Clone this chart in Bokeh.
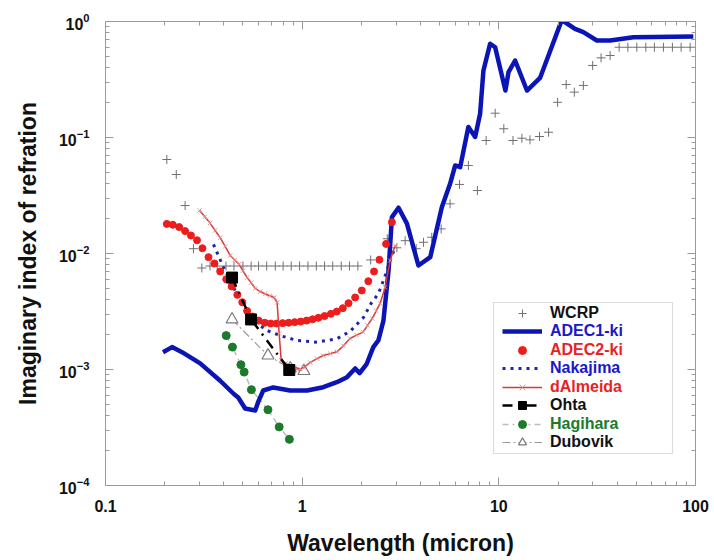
from bokeh.plotting import figure
from bokeh.models import (LogAxis, FixedTicker, Legend, LegendItem, BoxAnnotation,
                          CustomJSTickFormatter)
from bokeh.embed import file_html
from bokeh.resources import INLINE

# ---------------- data ----------------
wcrp_x = [0.205, 0.229, 0.254, 0.280, 0.309,
          0.34, 0.37, 0.41, 0.45, 0.50, 0.55, 0.60, 0.66, 0.73, 0.80,
          0.88, 0.97, 1.07, 1.18, 1.30, 1.43, 1.58, 1.74, 1.92,
          2.23, 2.71, 3.03, 3.34, 3.80, 4.14, 4.56, 5.09, 5.65, 6.31,
          7.0, 7.78, 8.62, 9.58, 10.6, 11.8, 13.1, 14.4, 16.1, 17.9,
          19.9, 22.0, 24.2, 26.9, 30.0, 33.1, 36.8, 40.9,
          45.3, 50.3, 55.9, 61.8, 68.7, 76.3, 84.5, 93.9]
wcrp_y = [0.0646, 0.048, 0.0259, 0.011, 0.0075,
          0.0078, 0.0078, 0.0078, 0.0078, 0.0078, 0.0078, 0.0078, 0.0078, 0.0078, 0.0078,
          0.0078, 0.0078, 0.0078, 0.0078, 0.0078, 0.0078, 0.0078, 0.0078, 0.0078,
          0.0088, 0.0134, 0.0112, 0.0129, 0.0110, 0.0125, 0.0138, 0.0163, 0.0268, 0.0394,
          0.0574, 0.0349, 0.0942, 0.162, 0.119, 0.0942, 0.0986, 0.0955, 0.102, 0.111,
          0.201, 0.286, 0.246, 0.281, 0.418, 0.486, 0.509, 0.60,
          0.60, 0.60, 0.60, 0.60, 0.60, 0.60, 0.60, 0.60]

adec1_x = [0.196, 0.218, 0.245, 0.303, 0.383, 0.448, 0.473, 0.513, 0.577, 0.597,
           0.634, 0.713, 0.869, 1.06, 1.28, 1.50, 1.69, 1.86, 1.96, 2.13,
           2.30, 2.44, 2.59, 2.75, 2.86, 3.09, 3.41, 3.90, 4.48, 5.13,
           5.65, 6.0, 6.36, 7.0, 7.58, 8.03, 8.35, 9.03, 9.58, 10.8,
           11.2, 12.1, 13.9, 16.2, 20.9, 24.4, 26.9, 31.5, 36.8, 48.3, 97.5]
adec1_y = [1.41e-3, 1.56e-3, 1.41e-3, 1.13e-3, 8.0e-4, 6.18e-4, 5.74e-4, 4.61e-4, 4.43e-4, 5.23e-4,
           6.59e-4, 7.0e-4, 6.59e-4, 6.59e-4, 7.04e-4, 7.78e-4, 8.59e-4, 1.02e-3, 9.3e-4, 1.12e-3,
           1.56e-3, 1.78e-3, 2.64e-3, 7.13e-3, 2.06e-2, 2.48e-2, 1.81e-2, 7.88e-3, 9.29e-3, 2.51e-2,
           3.99e-2, 5.74e-2, 5.55e-2, 0.123, 0.101, 0.160, 0.378, 0.643, 0.600, 0.254,
           0.366, 0.461, 0.254, 0.326, 1.03, 0.865, 0.809, 0.686, 0.686, 0.732, 0.742]

adec2_x = [0.205, 0.220, 0.237, 0.254, 0.272, 0.292, 0.311, 0.334, 0.358, 0.383,
           0.411, 0.438, 0.468, 0.496, 0.525, 0.560, 0.601, 0.645, 0.692, 0.742,
           0.796, 0.854, 0.916, 0.983, 1.054, 1.13, 1.21, 1.30, 1.40, 1.50,
           1.61, 1.72, 1.86, 2.01, 2.17, 2.32, 2.47, 2.67, 2.86]
adec2_y = [0.0180, 0.0177, 0.0169, 0.0156, 0.0143, 0.0130, 0.0111, 0.0093, 0.0082, 0.0070,
           0.0060, 0.0052, 0.0044, 0.0038, 0.0032, 0.00286, 0.00264, 0.00253, 0.00249, 0.00249,
           0.00251, 0.00253, 0.00256, 0.00259, 0.00264, 0.00271, 0.00279, 0.00289, 0.00302, 0.00316,
           0.00338, 0.00373, 0.00418, 0.0048, 0.00577, 0.0070, 0.00883, 0.0121, 0.0186]

nak_x = [0.354, 0.398, 0.448, 0.503, 0.565, 0.662, 0.773, 0.940, 1.19, 1.50,
         1.75, 2.05, 2.24, 2.44, 2.59, 2.70, 2.80, 2.97]
nak_y = [0.0120, 0.0076, 0.0051, 0.0034, 0.00264, 0.00217, 0.00196, 0.00178, 0.00172, 0.00184,
         0.00213, 0.00281, 0.00371, 0.0045, 0.00585, 0.00713, 0.0087, 0.0113]

dal_x = [0.301, 0.320, 0.340, 0.361, 0.383, 0.406, 0.431, 0.454, 0.478, 0.500,
         0.525, 0.550, 0.577, 0.612, 0.649, 0.685, 0.721, 0.746, 0.764, 0.782,
         0.825, 0.869, 0.920, 0.977, 1.02, 1.10, 1.19, 1.28, 1.39, 1.50,
         1.62, 1.75, 1.89, 2.04, 2.15, 2.27, 2.38, 2.49, 2.64, 2.80, 2.97]
dal_y = [0.0235, 0.0207, 0.0183, 0.0158, 0.0137, 0.0115, 0.0096, 0.0088, 0.0081, 0.0071,
         0.0062, 0.0056, 0.0050, 0.0047, 0.00448, 0.00432, 0.00418, 0.00378, 0.00204, 0.00120,
         0.00113, 0.00108, 0.00104, 0.00101, 0.00104, 0.00115, 0.00124, 0.00132, 0.00137, 0.00142,
         0.00160, 0.00185, 0.00198, 0.0021, 0.00240, 0.00275, 0.00320, 0.00371, 0.0051, 0.0087, 0.0117]

ohta_x = [0.44, 0.55, 0.86]
ohta_y = [0.0062, 0.0027, 0.00099]

hag_x = [0.411, 0.442, 0.488, 0.507, 0.552, 0.67, 0.764, 0.861]
hag_y = [0.00196, 0.00156, 0.0011, 0.00095, 0.00067, 0.00045, 0.00032, 0.00025]

dub_x = [0.44, 0.67, 0.87, 1.02]
dub_y = [0.0027, 0.00132, 0.00102, 0.00097]

x_ticks = [0.1, 1, 10, 100]
x_tick_labels = ["0.1", "1", "10", "100"]
y_ticks = [1e-4, 1e-3, 1e-2, 1e-1, 1]

x_minor = [m * d for d in [0.1, 1, 10] for m in range(2, 10)]
y_minor = [m * d for d in [1e-4, 1e-3, 1e-2, 1e-1] for m in range(2, 10)]

FONT = "Liberation Sans"
AXC = "#9a9a9a"

p = figure(width=712, height=560, x_axis_type="log", y_axis_type="log",
           x_range=(0.1, 100), y_range=(1e-4, 1),
           output_backend="svg", toolbar_location=None,
           min_border_left=105, min_border_right=17, min_border_top=21, min_border_bottom=75)
p.xgrid.visible = False
p.ygrid.visible = False
p.outline_line_color = AXC


def style_axis(ax):
    ax.axis_line_color = AXC
    ax.major_tick_line_color = AXC
    ax.minor_tick_line_color = AXC
    ax.major_tick_in = 8
    ax.major_tick_out = 0
    ax.minor_tick_in = 4
    ax.minor_tick_out = 0
    ax.major_label_text_font = FONT
    ax.major_label_text_font_style = "bold"
    ax.major_label_text_font_size = "16px"
    ax.major_label_text_color = "#111111"
    ax.axis_label_text_font = FONT
    ax.axis_label_text_font_style = "bold"
    ax.axis_label_text_font_size = "23px"
    ax.axis_label_text_color = "#111111"


xt = FixedTicker(ticks=x_ticks, minor_ticks=x_minor)
yt = FixedTicker(ticks=y_ticks, minor_ticks=y_minor)

xa = p.xaxis[0]
ya = p.yaxis[0]
xa.ticker = xt
ya.ticker = yt
style_axis(xa)
style_axis(ya)
xa.major_label_overrides = dict(zip(x_ticks, x_tick_labels))
xa.axis_label = "Wavelength (micron)"
ya.axis_label = "Imaginary index of refration"
xa.major_label_standoff = 14
ya.major_label_standoff = 16
xa.axis_label_standoff = 15
ya.axis_label_standoff = 15

blank = CustomJSTickFormatter(code="return ''")
top = LogAxis(ticker=xt, formatter=blank, major_label_standoff=0)
right = LogAxis(ticker=yt, formatter=blank, major_label_standoff=0)
style_axis(top)
style_axis(right)
p.add_layout(top, "above")
p.add_layout(right, "right")

# ---------------- series ----------------
wcrp = p.scatter(wcrp_x, wcrp_y, marker="cross", size=9, line_color="#707070", line_width=1)
hag_l = p.line(hag_x, hag_y, line_color="#bdbdbd", line_width=1.5, line_dash="6 4 2 4")
hag_m = p.scatter(hag_x, hag_y, marker="circle", size=8, fill_color="#1c7a2c", line_color="#1c7a2c")
dub_l = p.line(dub_x, dub_y, line_color="#9a9a9a", line_width=1.2, line_dash="8 3 2 3")
dub_m = p.scatter(dub_x, dub_y, marker="triangle", size=12, fill_color="white", line_color="#7a7a7a", line_width=1.2)
nak = p.line(nak_x, nak_y, line_color="#1f26a6", line_width=3, line_dash="3 5")
adec1 = p.line(adec1_x, adec1_y, line_color="#0b15b5", line_width=4.5, line_join="round")
adec2 = p.scatter(adec2_x, adec2_y, marker="circle", size=7, fill_color="#ee1d1d", line_color="#ee1d1d")
dal_l = p.line(dal_x, dal_y, line_color="#d83838", line_width=1.5)
dal_m = p.scatter(dal_x, dal_y, marker="x", size=6, line_color="#e58f8f", line_width=1)
ohta_l = p.line(ohta_x, ohta_y, line_color="black", line_width=2.5, line_dash="10 6 2 6")
ohta_m = p.scatter(ohta_x, ohta_y, marker="square", size=11, fill_color="black", line_color="black")

# ---------------- legend ----------------
box = BoxAnnotation(left=388, right=567, bottom=32, top=183,
                    left_units="screen", right_units="screen",
                    top_units="screen", bottom_units="screen",
                    fill_alpha=0, line_color="#8a8a8a", line_width=1.2)
p.add_layout(box)

legend_entries = [
    ("WCRP", [wcrp], "#111111"),
    ("ADEC1-ki", [adec1], "#1818c8"),
    ("ADEC2-ki", [adec2], "#e8231f"),
    ("Nakajima", [nak], "#1818c8"),
    ("dAlmeida", [dal_l, dal_m], "#e8231f"),
    ("Ohta", [ohta_l, ohta_m], "#111111"),
    ("Hagihara", [hag_l, hag_m], "#1c7a2c"),
    ("Dubovik", [dub_l, dub_m], "#111111"),
]
ITEM_H = 20
ROW = 18.5
for i, (lab, rs, col) in enumerate(legend_entries):
    cy = 172.25 - ROW * i
    lg = Legend(items=[LegendItem(label=lab, renderers=rs)],
                location=(397, cy - ITEM_H / 2),
                padding=0, margin=0, spacing=0,
                border_line_color=None, background_fill_alpha=0,
                glyph_width=40, glyph_height=ITEM_H, label_height=ITEM_H,
                label_standoff=8,
                label_text_font=FONT, label_text_font_style="bold",
                label_text_font_size="16px", label_text_color=col)
    p.add_layout(lg)

open("out.html", "w").write(file_html(p, INLINE))
